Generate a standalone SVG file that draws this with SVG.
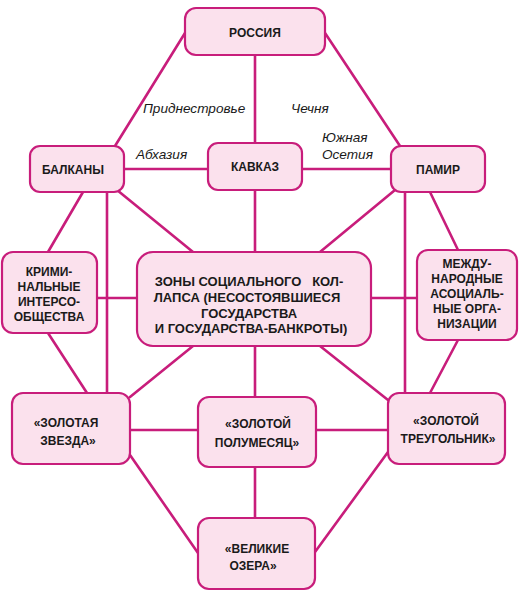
<svg xmlns="http://www.w3.org/2000/svg" width="524" height="594" viewBox="0 0 524 594">
<style>
.bg{fill:#ffffff}
.box{fill:#fbe1ed;stroke:#c81d7b;stroke-width:2.2}
.ln{stroke:#c81d7b;stroke-width:2.6;fill:none;stroke-linecap:round}
.t{font-family:"Liberation Sans",Arial,sans-serif;font-weight:bold;font-size:12px;fill:#1a1a1a;text-anchor:middle}
.c{font-size:13px;white-space:pre}
.i{font-family:"Liberation Sans",Arial,sans-serif;font-style:italic;font-size:13.6px;fill:#1a1a1a}
</style>
<rect class="bg" x="0" y="0" width="524" height="594"/>
<g id="connectors">
<line class="ln" x1="185" y1="33" x2="115" y2="146"/>
<line class="ln" x1="325" y1="33" x2="400" y2="146"/>
<line class="ln" x1="255" y1="55" x2="255" y2="143"/>
<line class="ln" x1="124" y1="169" x2="208" y2="169"/>
<line class="ln" x1="302" y1="169" x2="391" y2="169"/>
<line class="ln" x1="83" y1="192" x2="48" y2="252"/>
<line class="ln" x1="107" y1="192" x2="107" y2="393"/>
<line class="ln" x1="117" y1="190" x2="193" y2="252"/>
<line class="ln" x1="255" y1="190" x2="255" y2="252"/>
<line class="ln" x1="395" y1="190" x2="320" y2="252"/>
<line class="ln" x1="405" y1="192" x2="405" y2="393"/>
<line class="ln" x1="430" y1="192" x2="458" y2="250"/>
<line class="ln" x1="97" y1="298" x2="137" y2="298"/>
<line class="ln" x1="371" y1="298" x2="417" y2="298"/>
<line class="ln" x1="48" y1="333" x2="87" y2="393"/>
<line class="ln" x1="193" y1="346" x2="130" y2="397"/>
<line class="ln" x1="255" y1="346" x2="255" y2="397"/>
<line class="ln" x1="320" y1="346" x2="388" y2="400"/>
<line class="ln" x1="458" y1="340" x2="430" y2="393"/>
<line class="ln" x1="130" y1="430" x2="198" y2="430"/>
<line class="ln" x1="316" y1="430" x2="388" y2="430"/>
<line class="ln" x1="255" y1="467" x2="255" y2="518"/>
<line class="ln" x1="130" y1="455" x2="198" y2="553"/>
<line class="ln" x1="388" y1="452" x2="315" y2="552"/>
</g>
<g id="labels">
<text class="i" x="143" y="113">Приднестровье</text>
<text class="i" x="291" y="113">Чечня</text>
<text class="i" x="136" y="159">Абхазия</text>
<text class="i" x="322" y="142">Южная</text>
<text class="i" x="322" y="159">Осетия</text>
</g>
<g id="russia"><rect class="box" x="185" y="8" width="140" height="47" rx="11"/><text class="t" x="255" y="37">РОССИЯ</text></g>
<g id="balkans"><rect class="box" x="30" y="146" width="94" height="46" rx="10"/><text class="t" x="73" y="174">БАЛКАНЫ</text></g>
<g id="kavkaz"><rect class="box" x="208" y="143" width="94" height="47" rx="10"/><text class="t" x="255" y="171">КАВКАЗ</text></g>
<g id="pamir"><rect class="box" x="391" y="146" width="94" height="46" rx="10"/><text class="t" x="438" y="174">ПАМИР</text></g>
<g id="criminal"><rect class="box" x="2" y="252" width="95" height="81" rx="11"/>
<text class="t" x="49" y="276">КРИМИ-</text><text class="t" x="49" y="291">НАЛЬНЫЕ</text><text class="t" x="49" y="306">ИНТЕРСО-</text><text class="t" x="49" y="321">ОБЩЕСТВА</text></g>
<g id="collapse"><rect class="box" x="137" y="252" width="234" height="94" rx="16"/>
<text class="t c" x="249" y="286" xml:space="preserve">ЗОНЫ СОЦИАЛЬНОГО   КОЛ-</text><text class="t c" x="247" y="302">ЛАПСА (НЕСОСТОЯВШИЕСЯ</text><text class="t c" x="249" y="318">ГОСУДАРСТВА</text><text class="t c" x="251" y="333">И ГОСУДАРСТВА-БАНКРОТЫ)</text></g>
<g id="international"><rect class="box" x="417" y="250" width="100" height="90" rx="11"/>
<text class="t" x="467" y="268">МЕЖДУ-</text><text class="t" x="467" y="283">НАРОДНЫЕ</text><text class="t" x="467" y="298">АСОЦИАЛЬ-</text><text class="t" x="467" y="313">НЫЕ ОРГА-</text><text class="t" x="467" y="328">НИЗАЦИИ</text></g>
<g id="golden-star"><rect class="box" x="12" y="393" width="118" height="71" rx="11"/>
<text class="t" x="66" y="427">«ЗОЛОТАЯ</text><text class="t" x="68" y="445">ЗВЕЗДА»</text></g>
<g id="golden-crescent"><rect class="box" x="198" y="397" width="118" height="70" rx="11"/>
<text class="t" x="258" y="428">«ЗОЛОТОЙ</text><text class="t" x="257" y="447">ПОЛУМЕСЯЦ»</text></g>
<g id="golden-triangle"><rect class="box" x="388" y="393" width="117" height="71" rx="11"/>
<text class="t" x="446" y="425">«ЗОЛОТОЙ</text><text class="t" x="448" y="443">ТРЕУГОЛЬНИК»</text></g>
<g id="great-lakes"><rect class="box" x="198" y="518" width="117" height="71" rx="11"/>
<text class="t" x="257" y="553">«ВЕЛИКИЕ</text><text class="t" x="253" y="570">ОЗЕРА»</text></g>
</svg>
